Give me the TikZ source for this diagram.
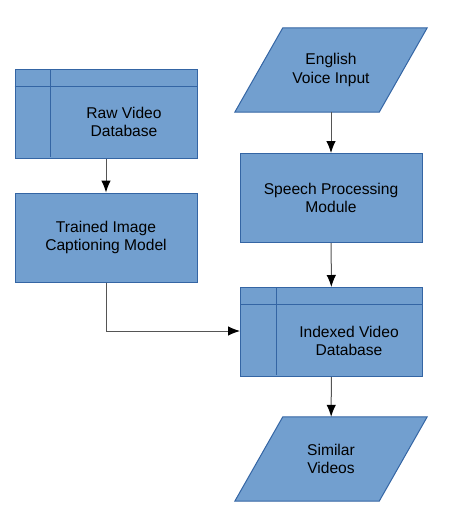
\documentclass[tikz,border=0pt]{standalone}
\usepackage{fontspec}
\setmainfont{Liberation Sans}
\usetikzlibrary{arrows.meta,backgrounds}

\definecolor{boxfill}{HTML}{729FCF}
\definecolor{boxline}{HTML}{3465A4}
\definecolor{wire}{HTML}{555555}

\tikzset{
  label text/.style={align=center, font=\fontsize{15.6}{18.5}\selectfont, inner sep=0pt},
  block/.style={draw=boxline, fill=boxfill, line width=1pt, minimum width=182, minimum height=89, label text},
  iobox/.style={minimum width=144, minimum height=84, inner sep=0pt, label text},
  flow/.style={draw=wire, line width=1pt, -{Latex[length=12pt,width=9.5pt,black]}}
}

\begin{document}
\begin{tikzpicture}[x=1pt,y=-1pt]

% Page size
\useasboundingbox (0,0) rectangle (467,527);

% Left column
\node[block] (raw) at (106,114) {};
\draw[boxline, line width=1pt] (raw.north west) ++(36,0) -- ++(0,88);
\draw[boxline, line width=1pt] (raw.north west) ++(0,17) -- ++(182,0);
\node[label text] (rawtxt) at (124,122) {Raw Video\\Database};

\node[block] (model) at (106,237.5) {Trained Image\\Captioning Model};

% Right column
\node[iobox] (voice) at (331,70) {English\\Voice Input};
\node[block] (speech) at (331,198) {Speech Processing\\Module};

\node[block] (index) at (331.5,332) {};
\draw[boxline, line width=1pt] (index.north west) ++(36,0) -- ++(0,88);
\draw[boxline, line width=1pt] (index.north west) ++(0,17) -- ++(183,0);
\node[label text] (indextxt) at (349,341) {Indexed Video\\Database};

\node[iobox] (similar) at (331,459) {Similar\\Videos};

% Parallelograms behind the text
\begin{scope}[on background layer]
\foreach \n in {voice,similar}
  \draw[boxline, fill=boxfill, line width=1pt]
    ([xshift=-24]\n.south west) -- ([xshift=-24]\n.south east) --
    ([xshift=24]\n.north east) -- ([xshift=24]\n.north west) -- cycle;
\end{scope}

% Connectors
\draw[flow] (raw) -- (model);
\draw[flow] (voice) -- (speech);
\draw[flow] (speech) -- (index);
\draw[flow] (index) -- (similar);
\draw[flow] (model.south) |- (index.west |- 0,331);

\end{tikzpicture}
\end{document}
